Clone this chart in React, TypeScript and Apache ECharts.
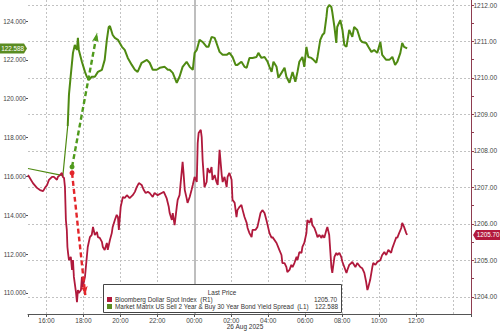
import React, { useEffect, useRef } from "react";
import * as echarts from "echarts";

// ---- data (times are clock times; 15:00-23:59 on 25 Aug, 00:00-14:59 on 26 Aug) ----
const greenEarly: [string, number][] = [
  ["15:00", 116.41], ["16:50", 116.05], ["16:53", 116.0], ["17:09", 118.6],
];
const greenData: [string, number][] = [
  ["17:09",118.6],["17:13",120.21],["17:19",121.23],["17:26",122.36],["17:32",122.77],["17:39",122.51],["17:42",123.13],["17:45",122.51],["17:55",121.90],["18:05",121.38],
  ["18:11",121.13],["18:18",120.97],["18:27",121.13],["18:37",121.13],["18:47",121.38],["19:00",121.49],["19:09",122.00],["19:16",123.03],["19:22",123.69],["19:26",123.74],
  ["19:35",123.28],["19:42",123.13],["19:52",123.03],["20:05",122.67],["20:14",122.51],["20:24",122.10],["20:37",121.74],["20:47",121.49],["20:56",121.38],["21:09",121.85],
  ["21:26",122.00],["21:35",121.85],["21:45",121.49],["21:58",121.49],["22:08",121.59],["22:24",121.64],["22:34",121.49],["22:40",121.49],["22:50",121.33],["23:03",120.82],
  ["23:12",121.13],["23:22",121.64],["23:35",121.90],["23:45",121.64],["23:55",121.49],["00:01",122.36],["00:08",122.51],["00:17",123.03],["00:27",122.92],["00:40",122.67],
  ["00:46",122.67],["00:56",123.18],["01:06",123.13],["01:12",122.87],["01:22",122.41],["01:32",122.26],["01:45",122.26],["01:54",122.36],["02:04",122.15],["02:14",121.74],
  ["02:20",121.74],["02:33",121.90],["02:43",121.64],["02:50",121.59],["02:59",122.10],["03:09",122.10],["03:22",122.15],["03:28",122.36],["03:38",122.10],["03:48",122.15],
  ["03:58",121.90],["04:04",121.64],["04:11",121.38],["04:17",121.90],["04:27",121.64],["04:33",121.08],["04:43",121.33],["04:53",121.59],["04:59",121.13],["05:09",120.82],
  ["05:19",121.38],["05:28",120.87],["05:35",121.38],["05:41",121.90],["05:51",122.15],["05:57",121.64],["06:04",122.67],["06:10",122.15],["06:20",122.10],["06:27",122.00],
  ["06:36",121.85],["06:40",122.15],["06:49",123.03],["06:56",123.28],["07:02",123.38],["07:09",124.21],["07:12",124.67],["07:18",124.82],["07:25",124.72],["07:28",124.46],
  ["07:35",123.69],["07:41",122.87],["07:44",123.69],["07:54",124.05],["08:01",123.54],["08:07",122.77],["08:14",122.67],["08:23",123.54],["08:33",123.18],["08:39",123.69],
  ["08:49",123.54],["08:59",123.03],["09:05",122.92],["09:18",122.87],["09:25",122.67],["09:35",122.41],["09:44",122.51],["09:54",122.36],["10:04",122.92],["10:10",122.26],
  ["10:23",122.00],["10:33",122.00],["10:43",122.15],["10:52",121.74],["10:59",121.90],["11:09",122.36],["11:15",122.87],["11:21",122.67],["11:31",122.588],
];
const redData: [string, number][] = [
  ["15:00",1207.34],["15:06",1207.26],["15:16",1207.12],["15:29",1206.99],["15:39",1206.93],["15:49",1206.90],["15:55",1206.99],["16:02",1207.07],["16:08",1207.21],["16:18",1207.29],
  ["16:24",1207.29],["16:34",1207.21],["16:37",1207.29],["16:44",1207.34],["16:50",1207.40],["16:53",1207.29],["16:57",1207.26],["17:00",1207.01],["17:03",1206.11],["17:06",1205.84],
  ["17:08",1205.37],["17:10",1205.21],["17:13",1205.01],["17:19",1205.10],["17:23",1204.74],["17:26",1205.01],["17:29",1204.55],["17:36",1204.11],["17:39",1203.86],["17:42",1204.19],
  ["17:45",1204.11],["17:52",1204.19],["17:55",1204.55],["17:58",1204.27],["18:05",1204.55],["18:11",1205.10],["18:14",1205.37],["18:21",1205.64],["18:27",1205.70],["18:31",1205.92],
  ["18:37",1205.70],["18:44",1205.78],["18:47",1205.64],["18:53",1205.62],["19:00",1205.51],["19:03",1205.37],["19:09",1205.29],["19:16",1205.48],["19:19",1205.29],["19:26",1205.56],
  ["19:32",1205.75],["19:35",1205.92],["19:42",1206.11],["19:48",1206.25],["19:52",1206.19],["19:55",1205.84],["20:01",1206.47],["20:08",1206.74],["20:14",1206.71],["20:21",1206.79],
  ["20:30",1206.71],["20:40",1206.79],["20:47",1206.88],["20:53",1207.01],["21:00",1207.12],["21:09",1207.07],["21:16",1206.93],["21:22",1206.85],["21:29",1206.88],["21:35",1206.85],
  ["21:45",1206.74],["21:51",1206.85],["22:01",1206.79],["22:14",1206.85],["22:21",1206.88],["22:30",1206.71],["22:37",1206.47],["22:40",1206.30],["22:47",1206.11],["22:50",1206.30],
  ["22:56",1205.97],["23:03",1206.47],["23:06",1206.66],["23:12",1206.79],["23:22",1207.70],["23:25",1207.40],["23:29",1206.93],["23:35",1206.71],["23:38",1206.58],["23:45",1206.74],
  ["23:51",1206.93],["23:55",1207.07],["00:01",1207.29],["00:08",1207.15],["00:11",1208.22],["00:14",1208.49],["00:21",1208.58],["00:24",1208.38],["00:27",1207.75],["00:33",1207.01],
  ["00:40",1207.15],["00:43",1207.53],["00:50",1207.40],["00:56",1207.56],["00:59",1207.21],["01:06",1207.34],["01:12",1207.15],["01:16",1207.07],["01:22",1208.03],["01:29",1207.34],
  ["01:32",1207.15],["01:38",1207.29],["01:45",1207.01],["01:48",1207.29],["01:54",1207.40],["02:01",1207.21],["02:04",1206.66],["02:11",1206.58],["02:17",1206.19],["02:20",1206.38],
  ["02:27",1206.47],["02:33",1206.52],["02:37",1206.38],["02:43",1206.19],["02:50",1206.03],["02:53",1205.89],["02:59",1205.75],["03:06",1205.64],["03:09",1205.84],["03:19",1205.84],
  ["03:25",1205.92],["03:35",1206.30],["03:41",1206.38],["03:48",1206.30],["03:54",1206.11],["03:58",1205.97],["04:04",1205.75],["04:11",1205.62],["04:14",1205.64],["04:27",1205.48],
  ["04:36",1205.29],["04:43",1205.15],["04:46",1204.93],["04:53",1204.93],["04:59",1204.82],["05:02",1204.68],["05:09",1204.74],["05:15",1204.88],["05:19",1204.82],["05:25",1204.93],
  ["05:32",1205.10],["05:35",1205.01],["05:41",1205.23],["05:48",1205.21],["05:51",1205.37],["05:57",1205.48],["06:04",1205.75],["06:07",1206.11],["06:14",1206.03],["06:20",1206.16],
  ["06:23",1205.97],["06:30",1205.89],["06:36",1205.75],["06:40",1205.64],["06:46",1205.70],["06:53",1205.62],["06:56",1205.70],["07:02",1205.62],["07:09",1205.84],["07:12",1205.92],
  ["07:18",1205.70],["07:25",1204.82],["07:28",1204.66],["07:35",1205.10],["07:41",1205.21],["07:44",1205.15],["07:51",1205.21],["07:57",1205.10],["08:01",1204.96],["08:07",1204.82],
  ["08:14",1204.66],["08:17",1204.74],["08:23",1204.88],["08:30",1204.93],["08:33",1204.96],["08:43",1204.82],["08:49",1204.93],["08:59",1204.82],["09:05",1204.79],["09:12",1204.66],
  ["09:18",1204.41],["09:22",1204.19],["09:25",1204.27],["09:31",1204.47],["09:38",1204.82],["09:41",1204.93],["09:48",1204.88],["09:54",1204.96],["10:04",1205.01],["10:10",1205.15],
  ["10:17",1205.23],["10:23",1205.15],["10:30",1205.29],["10:39",1205.21],["10:43",1205.34],["10:49",1205.48],["10:56",1205.64],["10:59",1205.62],["11:05",1205.75],["11:12",1205.89],
  ["11:15",1206.03],["11:21",1205.92],["11:28",1205.75],["11:31",1205.70],
];
const greenArrow: [string, number][] = [["17:23", 116.49], ["18:44", 123.38]];
const redArrow: [string, number][] = [["17:23", 1207.40], ["18:06", 1204.05]];

const xLabelTimes = ["16:00","18:00","20:00","22:00","00:00","02:00","04:00","06:00","08:00","10:00","12:00"];
const xGridTimes = ["16:00","18:00","20:00","22:00","02:00","04:00","06:00","08:00","10:00","12:00","14:00"];
const dayBreak = "00:00";
const xStart = "15:00";
const xEnd = "14:59";
const leftTicks = [110, 112, 114, 116, 118, 120, 122, 124];
const rightTicks = [1204, 1205, 1206, 1207, 1208, 1209, 1210, 1211, 1212];
const rightMinorTicks = [1203.5, 1204.5, 1205.5, 1206.5, 1207.5, 1208.5, 1209.5, 1210.5, 1211.5];
const redName = "Bloomberg Dollar Spot Index  (R1)";
const greenName = "Market Matrix US Sell 2 Year & Buy 30 Year Bond Yield Spread  (L1)";
const redLast = "1205.70";
const greenLast = "122.588";
const legendTitle = "Last Price";
const dateLabel = "26 Aug 2025";

const toMin = (t: string) => {
  const [h, m] = t.split(":").map(Number);
  return h * 60 + m + (h < 15 ? 1440 : 0);
};
const fmtTime = (v: number) => {
  const h = Math.floor(v / 60) % 24;
  const m = Math.round(v % 60);
  return `${String(h).padStart(2, "0")}:${String(m).padStart(2, "0")}`;
};
const pts = (arr: [string, number][]) => arr.map(([t, v]) => [toMin(t), v]);

const GREEN = "#4f8a12";
const RED = "#b0193c";
const FONT = "'Liberation Sans', Arial, sans-serif";

export default function App() {
  const ref = useRef<HTMLDivElement>(null);
  useEffect(() => {
    if (!ref.current) return;
    const chart = echarts.init(ref.current, undefined, { renderer: "svg" });
    const xMin = toMin(xStart);
    const xMax = toMin(xEnd) + 1;
    const gridStyle = { color: "#c2c2c2", width: 1, type: [2, 2] as any };
    const option: any = {
      animation: false,
      backgroundColor: "#ffffff",
      textStyle: { fontFamily: FONT },
      grid: { left: 28, right: 27.5, top: 0, bottom: 17 },
      xAxis: {
        type: "value",
        min: xMin,
        max: xMax,
        axisLine: { show: true, lineStyle: { color: "#555", width: 1 } },
        axisTick: { show: true, customValues: [xMin, ...xLabelTimes.map(toMin), xMax], length: 3, lineStyle: { color: "#555" } },
        axisLabel: { customValues: xLabelTimes.map(toMin), formatter: (v: number) => fmtTime(v), fontSize: 6.5, color: "#444", margin: 3, fontFamily: FONT },
        splitLine: { show: false },
      },
      yAxis: [
        {
          type: "value", position: "left", min: 108.919, max: 125.081,
          axisLine: { show: false },
          axisTick: { show: true, customValues: leftTicks, length: 2, lineStyle: { color: "#555" } },
          axisLabel: { customValues: leftTicks, formatter: (v: number) => v.toFixed(3), fontSize: 6.3, color: "#444", margin: 2, fontFamily: FONT },
          splitLine: { show: false },
        },
        {
          type: "value", position: "right", min: 1203.534, max: 1212.137,
          axisLine: { show: true, lineStyle: { color: "#8e3d50", width: 1 } },
          axisTick: { show: true, customValues: [...rightTicks, ...rightMinorTicks], length: 2.5, lineStyle: { color: "#8e3d50" } },
          axisLabel: { customValues: rightTicks, formatter: (v: number) => v.toFixed(2), fontSize: 6.5, color: "#444", margin: 2, fontFamily: FONT },
          splitLine: { show: false },
        },
      ],
      series: [
        {
          type: "line", name: "grid", yAxisIndex: 1, data: pts(redData), silent: true, z: 1,
          showSymbol: false, symbol: "none", lineStyle: { opacity: 0, width: 0 },
          markLine: {
            silent: true, symbol: "none", animation: false, z: 1,
            label: { show: false },
            lineStyle: gridStyle,
            data: [
              ...rightTicks.map((v) => ({ yAxis: v })),
              ...xGridTimes.map((t) => ({ xAxis: toMin(t) })),
              { xAxis: toMin(dayBreak), lineStyle: { color: "#a8a8a8", width: 1.5, type: "solid" } },
            ],
          },
        },
        {
          type: "line", name: greenName + " early", yAxisIndex: 0, data: pts(greenEarly),
          showSymbol: false, symbol: "none", lineStyle: { color: GREEN, width: 1.2 }, z: 3,
        },
        {
          type: "line", name: redName, yAxisIndex: 1, data: pts(redData),
          showSymbol: false, symbol: "none", lineStyle: { color: RED, width: 1.8 }, z: 3,
          markLine: {
            silent: true, animation: false, z: 10,
            symbol: ["circle", "arrow"], symbolSize: [5, 9],
            label: { show: false },
            lineStyle: { color: "#e3262b", width: 2.4, type: [5, 3] },
            data: [[{ coord: [toMin(redArrow[0][0]), redArrow[0][1]] }, { coord: [toMin(redArrow[1][0]), redArrow[1][1]] }]],
          },
        },
        {
          type: "line", name: greenName, yAxisIndex: 0, data: pts(greenData),
          showSymbol: false, symbol: "none", lineStyle: { color: GREEN, width: 2 }, z: 4,
          markLine: {
            silent: true, animation: false, z: 10,
            symbol: ["circle", "arrow"], symbolSize: [5, 9],
            label: { show: false },
            lineStyle: { color: "#4f9a1c", width: 2.4, type: [5, 3] },
            data: [[{ coord: [toMin(greenArrow[0][0]), greenArrow[0][1]] }, { coord: [toMin(greenArrow[1][0]), greenArrow[1][1]] }]],
          },
        },
      ],
    };
    chart.setOption(option);

    const yG = chart.convertToPixel({ yAxisIndex: 0 }, Number(greenLast)) as number;
    const yR = chart.convertToPixel({ yAxisIndex: 1 }, Number(redLast)) as number;
    const txt = (text: string, x: number, y: number, align: string, extra: any = {}) => ({
      type: "text", x, y, z: 100,
      style: { text, fill: "#333", fontSize: 6.4, fontFamily: FONT, align, verticalAlign: "middle", ...extra },
    });
    chart.setOption({
      graphic: [
        { type: "polygon", z: 100, shape: { points: [[0, yG - 5], [24, yG - 5], [27, yG], [24, yG + 5], [0, yG + 5]] }, style: { fill: "#5a8c22" } },
        txt(greenLast, 12.5, yG, "center", { fill: "#fff", fontSize: 6.3 }),
        { type: "polygon", z: 100, shape: { points: [[473, yR], [476, yR - 5], [500, yR - 5], [500, yR + 5], [476, yR + 5]] }, style: { fill: "#b3193d" } },
        txt(redLast, 488, yR, "center", { fill: "#fff", fontSize: 6.3 }),
        { type: "rect", z: 99, shape: { x: 103.5, y: 284.5, width: 238, height: 28 }, style: { fill: "#fff", stroke: "#444", lineWidth: 1 } },
        txt(legendTitle, 222, 292, "center"),
        { type: "rect", z: 100, shape: { x: 107, y: 297, width: 5, height: 5 }, style: { fill: RED } },
        txt(redName, 115, 299.8, "left"),
        txt(redLast, 337, 299.8, "right"),
        { type: "rect", z: 100, shape: { x: 107, y: 304, width: 5, height: 5 }, style: { fill: "#5a8c22" } },
        txt(greenName, 115, 306.8, "left"),
        txt(greenLast, 338, 306.8, "right"),
        txt(dateLabel, 245, 326, "center", { fontSize: 6.5 }),
      ],
    });
    return () => chart.dispose();
  }, []);
  return <div ref={ref} style={{ position: "absolute", left: 0, top: 0, width: 500, height: 331 }} />;
}
